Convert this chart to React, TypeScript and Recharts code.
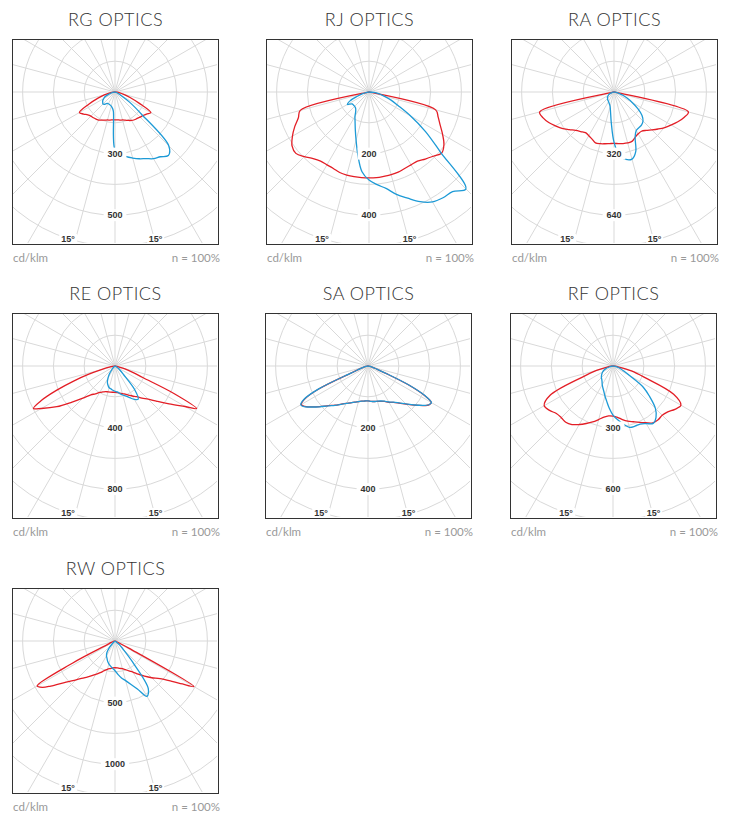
import React from 'react';
import { RadarChart, Radar, PolarGrid, PolarAngleAxis, PolarRadiusAxis } from 'recharts';

// gamma angle in degrees: 0 = straight down, negative = left half, positive = right half
const ANGLES_5 = [-90, -85, -80, -75, -70, -65, -60, -55, -50, -45, -40, -35, -30, -25, -20, -15, -10, -5, 0, 5, 10, 15, 20, 25, 30, 35, 40, 45, 50, 55, 60, 65, 70, 75, 80, 85, 90];
const ANGLES_RE = [-90, -85, -80, -75, -72.5, -70, -67.5, -65, -62.5, -60, -55, -50, -45, -40, -35, -30, -25, -20, -15, -10, -5, 0, 5, 10, 15, 20, 25, 30, 35, 40, 45, 50, 55, 60, 62.5, 65, 67.5, 70, 72.5, 75, 80, 85, 90];
const ANGLES_SA = [-90, -85, -80, -75, -70, -67.5, -65, -62.5, -60, -57.5, -55, -50, -45, -40, -35, -30, -25, -20, -15, -10, -5, 0, 5, 10, 15, 20, 25, 30, 35, 40, 45, 50, 55, 57.5, 60, 62.5, 65, 67.5, 70, 75, 80, 85, 90];
const ANGLES_RW = [-90, -85, -80, -75, -70, -65, -62.5, -60, -57.5, -55, -50, -45, -40, -35, -30, -25, -20, -15, -10, -5, 0, 5, 10, 15, 20, 25, 30, 35, 40, 45, 50, 55, 57.5, 60, 62.5, 65, 70, 75, 80, 85, 90];

// grid spokes every 15deg, rings and labelled rings
const SPOKES = [-180, -165, -150, -135, -120, -105, -90, -75, -60, -45, -30, -15, 0, 15, 30, 45, 60, 75, 90, 105, 120, 135, 150, 165];
const RINGS = [1, 2, 3, 4, 5, 6, 7];
const LABEL_RINGS = [2, 4];
const DEGREE_LABELS = ['15°', '15°'];

// cd/klm, C0-C180 plane (red) and C90-C270 plane (blue)
const RG_C0 = [0, 15, 29, 54, 88, 141, 200, 187, 173, 166, 164, 161, 158, 151, 146, 141, 139, 136, 136, 136, 139, 141, 146, 153, 160, 165, 168, 173, 178, 187, 202, 131, 78, 44, 24, 10, 0];
const RG_C90 = [0, 5, 10, 19, 34, 54, 63, 73, 78, 83, 78, 68, 66, 66, 68, 71, 78, 93, 282, 302, 320, 333, 346, 358, 375, 385, 404, 370, 170, 88, 34, 15, 7, 2, 0, 0, 0];
const RG_TICKS = ['300', '500'];

const RJ_C0 = [0, 0, 6, 231, 244, 266, 287, 305, 310, 297, 282, 274, 273, 274, 278, 279, 279, 279, 279, 279, 278, 278, 277, 274, 273, 274, 284, 295, 308, 297, 276, 255, 239, 224, 6, 0, 0];
const RJ_C90 = [0, 3, 10, 23, 40, 68, 81, 67, 66, 66, 68, 75, 91, 107, 130, 162, 208, 260, 286, 302, 318, 344, 367, 393, 412, 419, 422, 445, 302, 224, 156, 104, 75, 49, 32, 16, 0];
const RJ_TICKS = ['200', '400'];

const RA_C0 = [0, 5, 10, 400, 392, 374, 351, 330, 304, 282, 268, 258, 262, 270, 281, 278, 273, 269, 267, 269, 272, 274, 273, 260, 251, 249, 260, 278, 299, 322, 343, 366, 387, 400, 10, 5, 0];
const RA_C90 = [0, 0, 5, 10, 21, 29, 34, 39, 45, 47, 51, 54, 57, 62, 68, 78, 104, 161, 260, 332, 356, 361, 330, 260, 231, 226, 223, 213, 190, 151, 109, 75, 49, 26, 16, 5, 0];
const RA_TICKS = ['320', '640'];

const RE_C0 = [0, 6, 26, 97, 182, 286, 409, 526, 597, 552, 461, 364, 295, 244, 221, 198, 186, 177, 174, 172, 171, 171, 174, 179, 185, 195, 208, 225, 243, 272, 305, 357, 429, 526, 597, 422, 195, 130, 84, 52, 19, 6, 0];
const RE_C90 = [0, 0, 0, 0, 0, 0, 0, 0, 3, 3, 6, 10, 18, 34, 65, 91, 117, 133, 146, 151, 158, 164, 169, 182, 195, 208, 227, 250, 263, 195, 78, 45, 26, 13, 10, 6, 3, 0, 0, 0, 0, 0, 0];
const RE_TICKS = ['400', '800'];

const SA_C0 = [0, 3, 6, 16, 32, 58, 175, 231, 250, 244, 231, 205, 182, 166, 151, 140, 132, 125, 120, 116, 114, 113, 115, 117, 119, 122, 127, 136, 144, 157, 175, 198, 224, 235, 237, 206, 146, 65, 32, 16, 6, 3, 0];
const SA_C90 = [0, 3, 6, 16, 32, 60, 178, 234, 252, 246, 232, 206, 183, 167, 152, 140, 132, 125, 120, 116, 114, 113, 115, 117, 118, 121, 126, 135, 143, 156, 174, 197, 223, 234, 238, 208, 148, 66, 32, 16, 6, 3, 0];
const SA_TICKS = ['200', '400'];

const RF_C0 = [0, 10, 29, 83, 161, 338, 387, 377, 360, 356, 358, 348, 329, 309, 290, 270, 253, 244, 244, 251, 265, 278, 289, 303, 319, 338, 342, 339, 348, 368, 382, 326, 166, 93, 29, 10, 0];
const RF_C90 = [0, 2, 7, 19, 37, 49, 58, 66, 73, 80, 85, 93, 105, 117, 131, 151, 175, 207, 239, 263, 287, 309, 312, 312, 324, 341, 326, 292, 234, 180, 93, 58, 39, 24, 15, 5, 0];
const RF_TICKS = ['300', '600'];

const RW_C0 = [0, 4, 8, 16, 32, 65, 390, 730, 700, 637, 518, 446, 390, 349, 312, 284, 256, 238, 227, 219, 217, 219, 226, 232, 248, 268, 291, 329, 373, 422, 476, 575, 649, 739, 130, 24, 12, 8, 4, 2, 0];
const RW_C90 = [0, 0, 0, 0, 0, 0, 0, 0, 4, 6, 12, 28, 73, 114, 138, 154, 175, 192, 207, 223, 241, 272, 304, 333, 373, 430, 519, 471, 219, 89, 49, 16, 8, 4, 0, 0, 0, 0, 0, 0, 0];
const RW_TICKS = ['500', '1000'];

const RED = '#e31e26';
const BLUE = '#1d9ad6';
const RING_PX = 30.8;
const BOX_W = 207;
const BOX_H = 206;
const BORDER = 1.5;

const panels = [
  { title: 'RG OPTICS', left: 12, top: 39, step: 150, ticks: RG_TICKS, angles: ANGLES_5, red: RG_C0, blue: RG_C90 },
  { title: 'RJ OPTICS', left: 266, top: 39, step: 100, ticks: RJ_TICKS, angles: ANGLES_5, red: RJ_C0, blue: RJ_C90 },
  { title: 'RA OPTICS', left: 511, top: 39, step: 160, ticks: RA_TICKS, angles: ANGLES_5, red: RA_C0, blue: RA_C90 },
  { title: 'RE OPTICS', left: 12, top: 313, step: 200, ticks: RE_TICKS, angles: ANGLES_RE, red: RE_C0, blue: RE_C90 },
  { title: 'SA OPTICS', left: 265, top: 313, step: 100, ticks: SA_TICKS, angles: ANGLES_SA, red: SA_C0, blue: SA_C90 },
  { title: 'RF OPTICS', left: 510, top: 313, step: 150, ticks: RF_TICKS, angles: ANGLES_5, red: RF_C0, blue: RF_C90 },
  { title: 'RW OPTICS', left: 12, top: 588, step: 250, ticks: RW_TICKS, angles: ANGLES_RW, red: RW_C0, blue: RW_C90 },
];

// closed centripetal Catmull-Rom path through the radar points computed by recharts
function smoothShape(color: string) {
  return (props: any) => {
    const pts: { x: number; y: number }[] = props.points || [];
    const n = pts.length;
    if (!n) return <g />;
    const dist = (a: { x: number; y: number }, b: { x: number; y: number }) => Math.hypot(a.x - b.x, a.y - b.y);
    let d = `M${pts[0].x},${pts[0].y}`;
    for (let i = 0; i < n; i++) {
      const p0 = pts[(i - 1 + n) % n];
      const p1 = pts[i];
      const p2 = pts[(i + 1) % n];
      const p3 = pts[(i + 2) % n];
      const l01 = Math.sqrt(dist(p0, p1));
      const l12 = Math.sqrt(dist(p1, p2));
      const l23 = Math.sqrt(dist(p2, p3));
      let c1x = p1.x, c1y = p1.y, c2x = p2.x, c2y = p2.y;
      if (l01 > 1e-6 && l12 > 1e-6) {
        const a = 2 * l01 * l01 + 3 * l01 * l12 + l12 * l12;
        const m = 3 * l01 * (l01 + l12);
        c1x = (p1.x * a - p0.x * l12 * l12 + p2.x * l01 * l01) / m;
        c1y = (p1.y * a - p0.y * l12 * l12 + p2.y * l01 * l01) / m;
      }
      if (l23 > 1e-6 && l12 > 1e-6) {
        const b = 2 * l23 * l23 + 3 * l23 * l12 + l12 * l12;
        const m = 3 * l23 * (l23 + l12);
        c2x = (p2.x * b + p1.x * l23 * l23 - p3.x * l12 * l12) / m;
        c2y = (p2.y * b + p1.y * l23 * l23 - p3.y * l12 * l12) / m;
      }
      d += ` C${c1x},${c1y} ${c2x},${c2y} ${p2.x},${p2.y}`;
    }
    return <path d={d} fill="none" stroke={color} strokeWidth={1.3} strokeLinejoin="round" />;
  };
}

function RingLabel({ x, y, text }: { x: number; y: number; text: string }) {
  const w = text.length * 5.6 + 6;
  return (
    <g>
      <rect x={x - w / 2} y={y - 6} width={w} height={12} fill="#fff" />
      <text x={x} y={y} dy={3.2} textAnchor="middle" fontSize={9} fontWeight={700}
        fontFamily='"Liberation Sans", Arial, sans-serif' fill="#333">{text}</text>
    </g>
  );
}

function PolarPanel({ p }: { p: typeof panels[number] }) {
  const data = p.angles.map((a, i) => ({ angle: a, c0: p.red[i], c90: p.blue[i] }));
  const max = RINGS.length * p.step;
  const ringValues = RINGS.map((r) => r * p.step);
  const innerW = BOX_W - 2 * BORDER;
  const innerH = BOX_H - 2 * BORDER;
  const cx = innerW / 2;
  const cy = 52;

  const renderTick = (t: any) => {
    const ring = RINGS[t.index];
    const at = LABEL_RINGS.indexOf(ring);
    if (at < 0) return <g key={t.index} />;
    return <RingLabel key={t.index} x={t.x} y={t.y} text={p.ticks[at]} />;
  };

  return (
    <>
      <div style={{
        position: 'absolute', left: p.left, top: p.top - 32, width: BOX_W, height: 24, lineHeight: '24px',
        textAlign: 'center', fontFamily: 'Lato, sans-serif', fontWeight: 300, fontSize: 18, color: '#333', letterSpacing: 0.5,
      }}>{p.title}</div>
      <div style={{
        position: 'absolute', left: p.left, top: p.top, width: BOX_W, height: BOX_H, boxSizing: 'border-box',
        border: `${BORDER}px solid #333`, overflow: 'hidden', background: '#fff',
      }}>
        <RadarChart width={innerW} height={innerH} data={data} cx={cx} cy={cy} innerRadius={0}
          outerRadius={RINGS.length * RING_PX} startAngle={-270} endAngle={90}
          margin={{ top: 0, right: 0, bottom: 0, left: 0 }}>
          <PolarAngleAxis angleAxisId="grid" dataKey="angle" type="number" scale="linear" domain={[-180, 180]}
            ticks={SPOKES} tick={false} axisLine={false} tickLine={false} />
          <PolarAngleAxis dataKey="angle" type="number" scale="linear" domain={[-180, 180]}
            ticks={[0]} tick={false} axisLine={false} tickLine={false} />
          <PolarGrid gridType="circle" angleAxisId="grid" stroke="#d9d9d9" strokeWidth={1} />
          <Radar dataKey="c0" stroke={RED} fill="none" dot={false} isAnimationActive={false} shape={smoothShape(RED)} />
          <Radar dataKey="c90" stroke={BLUE} fill="none" dot={false} isAnimationActive={false} shape={smoothShape(BLUE)} />
          <PolarRadiusAxis angle={-90} domain={[0, max]} ticks={ringValues}
            axisLine={false} tickLine={false} tick={renderTick} />
        </RadarChart>
        {DEGREE_LABELS.map((d, i) => (
          <span key={i} style={{
            position: 'absolute', left: i === 0 ? cx - 47 : cx + 40.5, top: 198.5, transform: 'translate(-50%, -50%)',
            background: '#fff', padding: '0 2px', lineHeight: '10px', fontSize: 9, fontWeight: 700,
            fontFamily: '"Liberation Sans", Arial, sans-serif', color: '#333', whiteSpace: 'nowrap',
          }}>{d}</span>
        ))}
      </div>
      <div style={{
        position: 'absolute', left: p.left + 1, top: p.top + 211, width: BOX_W, height: 16, lineHeight: '16px',
        display: 'flex', justifyContent: 'space-between', fontFamily: 'Lato, sans-serif', fontSize: 11.5, color: '#999',
      }}>
        <span>cd/klm</span>
        <span>n = 100%</span>
      </div>
    </>
  );
}

export default function App() {
  return (
    <div style={{ position: 'absolute', left: 0, top: 0, width: 733, height: 814, background: '#fff' }}>
      {panels.map((p) => <PolarPanel key={p.title} p={p} />)}
    </div>
  );
}
